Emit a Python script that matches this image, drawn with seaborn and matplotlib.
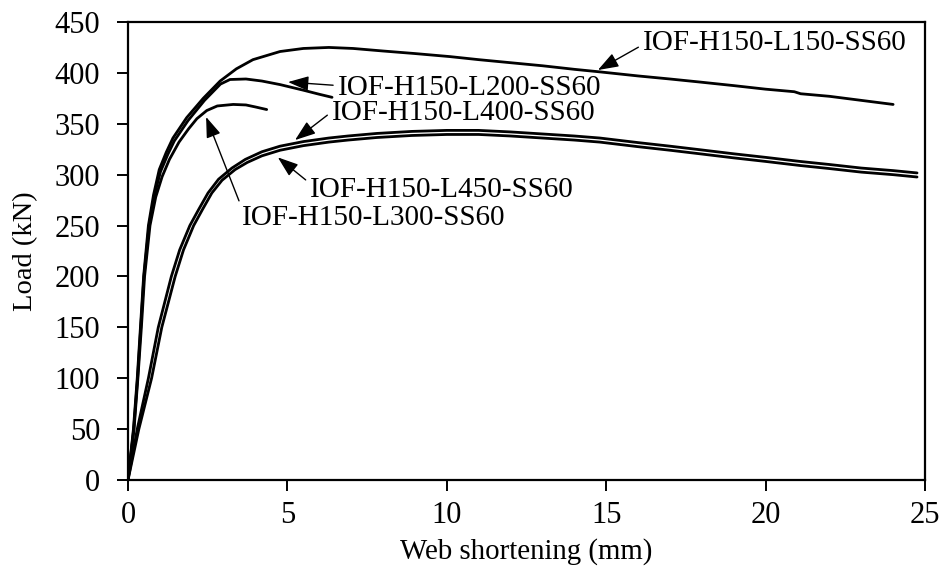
import numpy as np
import pandas as pd
import matplotlib
matplotlib.use("Agg")
import matplotlib.pyplot as plt
import seaborn as sns

# ---------------- data ----------------
l150_x = [0, 0.17, 0.29, 0.39, 0.49, 0.64, 0.80, 0.98, 1.20, 1.41, 1.84, 2.36, 2.89, 3.40,
          3.92, 4.77, 5.50, 6.30, 7.06, 8.0, 9.0, 10.1, 11.0, 12.0, 13.0, 14.0, 14.8,
          16.0, 17.0, 17.94, 19.0, 20.0, 20.9, 21.1, 22.0, 23.0, 24.0]
l150_y = [0, 50, 100, 150, 200, 250, 280, 305, 322, 336, 356, 375, 392, 404,
          413, 421, 424, 425, 424, 421.5, 419, 416, 413, 410, 407, 403.5, 401,
          397, 394, 391, 387.5, 384, 381.5, 379.5, 377, 373, 369]

l200_x = [0, 0.18, 0.30, 0.40, 0.50, 0.66, 0.83, 1.02, 1.25, 1.45, 1.88, 2.40, 2.90,
          3.20, 3.70, 4.20, 4.77, 5.50, 6.00, 6.40]
l200_y = [0, 50, 100, 150, 200, 250, 280, 303, 320, 333, 353, 373, 389,
          393.5, 394, 392, 388.5, 383, 379, 376]

l300_x = [0, 0.19, 0.31, 0.42, 0.52, 0.69, 0.87, 1.07, 1.30, 1.60, 1.90, 2.16, 2.47,
          2.80, 3.30, 3.70, 4.00, 4.35]
l300_y = [0, 50, 100, 150, 200, 250, 278, 298, 315, 332, 345, 355, 363,
          367.5, 369, 368.5, 366.5, 364]

l400_x = [0, 0.29, 0.64, 0.95, 1.36, 1.62, 1.94, 2.22, 2.51, 2.84, 3.26, 3.68, 4.20, 4.77,
          5.50, 6.30, 6.90, 7.80, 8.90, 10.0, 11.0, 12.0, 13.0, 14.0, 14.8, 16.0,
          17.0, 17.94, 19.0, 20.0, 21.08, 22.0, 23.0, 24.0, 24.75]
l400_y = [0, 50, 100, 150, 200, 226, 250, 266, 282, 295.5, 306.5, 315, 322.5, 328,
          332.5, 336, 338, 340.5, 342.5, 343.5, 343.5, 342, 340, 338, 336, 331.5,
          328, 324.5, 320.5, 317, 313, 310, 306.5, 304, 301.7]

l450_x = [0, 0.34, 0.74, 1.06, 1.48, 1.74, 2.06, 2.34, 2.63, 2.95, 3.36, 3.74, 4.20, 4.77,
          5.50, 6.30, 6.90, 7.80, 8.90, 10.0, 11.0, 12.0, 13.0, 14.0, 14.8, 16.0,
          17.0, 17.94, 19.0, 20.0, 21.08, 22.0, 23.0, 24.0, 24.75]
l450_y = [0, 50, 100, 150, 200, 226, 250, 266, 282, 294.5, 305, 312, 318.5, 324,
          328.5, 332, 334, 336.5, 338.5, 339.5, 339.5, 338, 336, 334, 332, 327.5,
          324, 320.5, 316.5, 313, 309, 306, 302.5, 300, 297.7]

specimens = ["IOF-H150-L150-SS60", "IOF-H150-L200-SS60", "IOF-H150-L300-SS60",
             "IOF-H150-L400-SS60", "IOF-H150-L450-SS60"]
series_x = [l150_x, l200_x, l300_x, l400_x, l450_x]
series_y = [l150_y, l200_y, l300_y, l400_y, l450_y]

x_ticks = [0, 5, 10, 15, 20, 25]
y_ticks = [0, 50, 100, 150, 200, 250, 300, 350, 400, 450]
x_label = "Web shortening (mm)"
y_label = "Load (kN)"

# annotation label anchors (text left/center) and arrow tips, in data units
label_pos = {
    "IOF-H150-L150-SS60": (16.15, 429),
    "IOF-H150-L200-SS60": (6.58, 385),
    "IOF-H150-L400-SS60": (6.39, 360.5),
    "IOF-H150-L450-SS60": (5.71, 285),
    "IOF-H150-L300-SS60": (3.57, 257),
}
arrow_tip = {
    "IOF-H150-L150-SS60": (14.74, 402.8),
    "IOF-H150-L200-SS60": (5.02, 391),
    "IOF-H150-L400-SS60": (5.24, 334),
    "IOF-H150-L450-SS60": (4.70, 317),
    "IOF-H150-L300-SS60": (2.45, 356.7),
}
arrow_rel = {
    "IOF-H150-L150-SS60": (0.0, 0.45),
    "IOF-H150-L200-SS60": (0.0, 0.6),
    "IOF-H150-L400-SS60": (0.0, 0.55),
    "IOF-H150-L450-SS60": (0.0, 0.75),
    "IOF-H150-L300-SS60": (0.0, 0.9),
}

# ---------------- figure ----------------
sns.set_style("ticks")
plt.rcParams["font.family"] = ["Liberation Serif", "DejaVu Serif"]

df = pd.concat(
    [pd.DataFrame({"x": sx, "load": sy, "specimen": name})
     for name, sx, sy in zip(specimens, series_x, series_y)],
    ignore_index=True)

fig = plt.figure(figsize=(9.46, 5.70), dpi=100)
ax = fig.add_axes([128 / 946, (570 - 480) / 570, (925 - 128) / 946, (480 - 22) / 570])

sns.lineplot(data=df, x="x", y="load", units="specimen", estimator=None, sort=False,
             color="black", linewidth=2.0, ax=ax, legend=False)

ax.set_xlim(0, 25)
ax.set_ylim(0, 450)
ax.set_xticks(x_ticks)
ax.set_yticks(y_ticks)
ax.set_xticklabels([str(t) for t in x_ticks])
ax.set_yticklabels([str(t) for t in y_ticks])
ax.tick_params(axis="both", direction="out", length=8, width=1.4, labelsize=22,
               color="black", labelcolor="black")
ax.tick_params(axis="x", pad=7)
ax.tick_params(axis="y", pad=12)
for s in ax.spines.values():
    s.set_visible(True)
    s.set_color("black")
    s.set_linewidth(1.6)
ax.set_xlabel(x_label, fontsize=20.8, labelpad=6, color="black")
ax.set_ylabel(y_label, fontsize=20.5, labelpad=12, color="black")
ax.grid(False)

for name in specimens:
    ax.annotate(name, xy=arrow_tip[name], xytext=label_pos[name],
                textcoords="data", ha="left", va="center", fontsize=21,
                color="black",
                arrowprops=dict(arrowstyle="-|>,head_length=0.7,head_width=0.25",
                                mutation_scale=18, color="black", lw=1.0,
                                shrinkA=1, shrinkB=0,
                                relpos=arrow_rel[name]))

fig.savefig("out.png", dpi=100, facecolor="white")
